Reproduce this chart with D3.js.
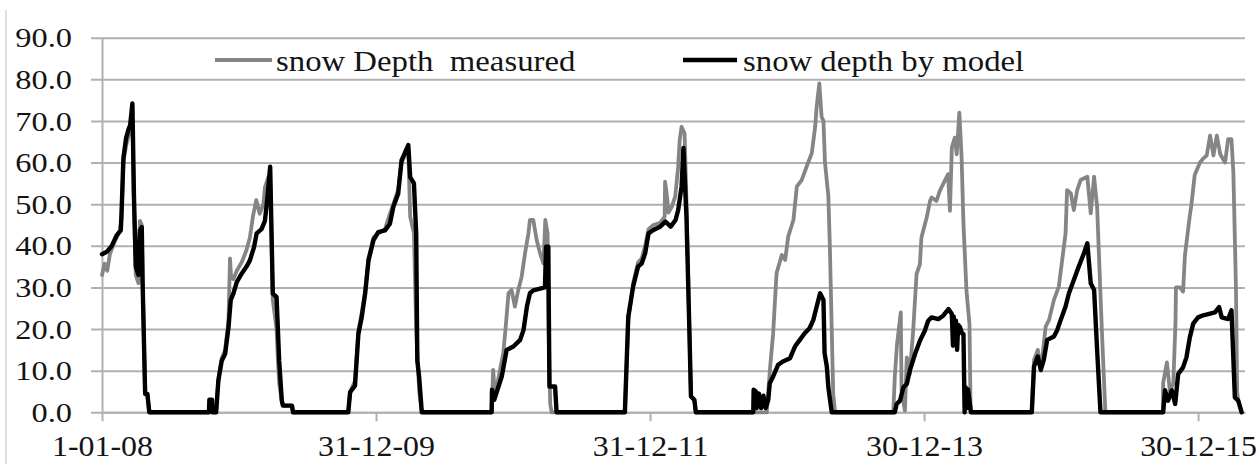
<!DOCTYPE html>
<html>
<head>
<meta charset="utf-8">
<script src="https://cdn.jsdelivr.net/npm/d3@7"></script>
<style>
  html, body { margin: 0; padding: 0; background: #fff; }
  svg { display: block; }
  text { font-family: "Liberation Serif", "Times New Roman", serif; fill: #141414; }
</style>
</head>
<body>
<svg id="chart" width="1259" height="464"></svg>
<script>
// ---- data -------------------------------------------------------------
const yTicks = [0, 10, 20, 30, 40, 50, 60, 70, 80, 90];
const xTickDates = ["2008-01-01", "2009-12-31", "2011-12-31", "2013-12-30", "2015-12-30"];
const xDomain = ["2008-01-01", "2016-05-03"];
const seriesNames = ["snow Depth  measured", "snow depth by model"];

// snow depth measured at the station (cm)
const measured = [
  ["2008-01-01",33],["2008-01-08",35.7],["2008-01-15",34],["2008-01-22",38],["2008-02-04",41],
  ["2008-02-18",43.7],["2008-02-22",47],["2008-02-27",60],["2008-03-05",64],["2008-03-11",66],
  ["2008-03-16",68],["2008-03-22",70],["2008-03-26",50],["2008-03-31",33],["2008-04-07",31],
  ["2008-04-11",46],["2008-04-16",45],["2008-04-18",33],["2008-04-23",12],["2008-04-25",4.4],
  ["2008-05-01",4],["2008-05-06",0],
  ["2008-10-31",0],["2008-11-06",8],["2008-11-15",13],["2008-11-24",15],["2008-12-03",22],
  ["2008-12-07",37],["2008-12-10",32.5],["2008-12-16",32],["2008-12-25",34],["2009-01-07",36],
  ["2009-01-20",39],["2009-01-29",42],["2009-02-06",47],["2009-02-15",51],["2009-02-24",47.7],
  ["2009-03-06",50],["2009-03-10",54],["2009-03-19",56.5],["2009-03-24",57],["2009-03-31",27],
  ["2009-04-10",20],["2009-04-14",12],["2009-04-17",7],["2009-04-24",2.8],["2009-04-27",1.6],
  ["2009-05-21",1.6],["2009-05-24",0],
  ["2009-10-18",0],["2009-10-23",5],["2009-11-05",7.5],["2009-11-14",19.5],["2009-11-23",24],
  ["2009-12-02",29],["2009-12-11",37],["2009-12-24",42],["2010-01-06",43],["2010-01-24",44],
  ["2010-02-06",47.7],["2010-02-15",50],["2010-02-28",53.5],["2010-03-09",60],["2010-03-20",62],
  ["2010-03-27",63],["2010-04-01",47],["2010-04-11",43],["2010-04-17",20],["2010-04-25",5],
  ["2010-05-02",0],
  ["2010-11-04",0],["2010-11-08",10.2],["2010-11-13",4],["2010-12-05",14.2],["2010-12-10",19],
  ["2010-12-19",28.6],["2010-12-27",29.4],["2011-01-05",25.4],["2011-01-14",29.4],["2011-01-23",32.6],
  ["2011-02-01",38.2],["2011-02-10",43],["2011-02-14",46.2],["2011-02-23",46.2],["2011-03-04",41.4],
  ["2011-03-13",38.2],["2011-03-22",35.8],["2011-03-27",46.2],["2011-04-02",43],["2011-04-05",19],
  ["2011-04-09",2],["2011-04-13",0],
  ["2011-10-25",0],["2011-11-03",22],["2011-11-16",31],["2011-11-29",36],["2011-12-09",37],
  ["2011-12-18",40],["2011-12-27",44],["2012-01-09",45],["2012-01-27",45.5],["2012-02-08",47],
  ["2012-02-09",55.4],["2012-02-14",52],["2012-02-18",48],["2012-02-27",49.4],["2012-03-07",51.8],
  ["2012-03-15",59],["2012-03-19",65.4],["2012-03-24",68.6],["2012-04-01",67],["2012-04-06",51],
  ["2012-04-14",19],["2012-04-18",3.8],["2012-04-27",3],["2012-05-01",0],
  ["2012-11-06",0],["2012-11-15",11],["2012-11-23",19],["2012-12-02",33.4],["2012-12-16",37.8],
  ["2012-12-25",36.6],["2013-01-02",42.2],["2013-01-16",46.2],["2013-01-25",54.2],["2013-02-07",55.8],
  ["2013-02-20",59],["2013-03-06",62.3],["2013-03-15",68.7],["2013-03-19",73.5],["2013-03-26",79],
  ["2013-04-01",71],["2013-04-06",70],["2013-04-10",60],["2013-04-19",52],["2013-04-23",40],
  ["2013-04-28",20],["2013-05-02",4.4],["2013-05-07",0],
  ["2013-10-09",0],["2013-10-13",8.4],["2013-10-19",16.4],["2013-10-29",24],["2013-10-31",5.2],
  ["2013-11-09",0.4],["2013-11-14",13.2],["2013-11-22",9.2],["2013-12-01",19.6],["2013-12-10",33.2],
  ["2013-12-19",35.6],["2013-12-23",42],["2014-01-06",46.8],["2014-01-15",50.8],["2014-01-19",51.6],
  ["2014-02-01",50.8],["2014-02-10",53.2],["2014-02-23",55.6],["2014-03-04",57.2],["2014-03-09",48.4],
  ["2014-03-14",63.6],["2014-03-22",66],["2014-03-27",62],["2014-04-03",72],["2014-04-09",61.2],
  ["2014-04-14",45.2],["2014-04-22",29.2],["2014-04-30",21.2],["2014-05-03",0],
  ["2014-10-13",0],["2014-10-19",12.6],["2014-10-29",15],["2014-11-06",10],["2014-11-19",20.6],
  ["2014-11-28",22.2],["2014-12-11",27],["2014-12-24",30.2],["2015-01-02",36.6],["2015-01-11",43],
  ["2015-01-15",53.4],["2015-01-25",52.6],["2015-02-02",48.6],["2015-02-11",53.4],["2015-02-20",55.8],
  ["2015-03-10",56.6],["2015-03-19",47.8],["2015-03-28",56.6],["2015-04-05",49.4],["2015-04-18",19],
  ["2015-04-27",0],
  ["2015-09-27",0],["2015-09-28",7],["2015-10-08",12],["2015-10-16",5],["2015-10-25",7],
  ["2015-10-31",22],["2015-11-01",30],["2015-11-12",30],["2015-11-20",29],["2015-11-25",37.7],
  ["2015-12-08",47.3],["2015-12-12",49.7],["2015-12-21",57],["2016-01-04",60],["2016-01-13",61],
  ["2016-01-22",61.7],["2016-01-31",66.5],["2016-02-09",61.7],["2016-02-18",66.5],["2016-02-27",62],
  ["2016-03-11",60],["2016-03-19",65.6],["2016-03-28",65.6],["2016-04-02",57.6],["2016-04-09",29.5],
  ["2016-04-12",5],["2016-04-15",2.8],["2016-04-24",0]
];

// snow depth simulated by the model (cm)
const model = [
  ["2008-01-01",38],["2008-01-13",38.5],["2008-01-27",40],["2008-02-09",42.5],["2008-02-20",43.7],
  ["2008-02-22",47.7],["2008-02-27",61],["2008-03-05",65.8],["2008-03-11",67.8],["2008-03-16",69],
  ["2008-03-22",74.2],["2008-03-26",52.5],["2008-03-31",35],["2008-04-07",33],["2008-04-11",43.7],
  ["2008-04-16",44.5],["2008-04-18",32],["2008-04-23",12],["2008-04-25",4.4],["2008-05-01",4.4],
  ["2008-05-06",0],
  ["2008-10-12",0],["2008-10-13",3],["2008-10-20",3],["2008-10-21",0],["2008-10-31",0],
  ["2008-11-06",7.6],["2008-11-15",12.4],["2008-11-24",14],["2008-12-03",20.4],["2008-12-09",27],
  ["2008-12-16",28.5],["2008-12-25",31.3],["2009-01-07",33.3],["2009-01-20",35],["2009-01-29",36.5],
  ["2009-02-09",39.7],["2009-02-16",43],["2009-03-01",44],["2009-03-10",46],["2009-03-16",51],
  ["2009-03-24",59],["2009-03-31",28.5],["2009-04-10",27.7],["2009-04-17",12.4],["2009-04-24",2.8],
  ["2009-04-27",1.6],["2009-05-21",1.6],["2009-05-24",0],
  ["2009-10-18",0],["2009-10-23",4.8],["2009-11-05",6.4],["2009-11-14",18.8],["2009-11-23",22.9],
  ["2009-12-02",28.5],["2009-12-11",36.5],["2009-12-24",41.3],["2010-01-06",43.3],["2010-01-24",43.7],
  ["2010-02-06",45.3],["2010-02-15",49.3],["2010-02-28",52.5],["2010-03-09",60.5],["2010-03-27",64.2],
  ["2010-04-01",56.5],["2010-04-11",55],["2010-04-17",43],["2010-04-20",12.4],["2010-04-25",8.4],
  ["2010-05-02",0],
  ["2010-11-04",0],["2010-11-05",5.4],["2010-11-11",3],["2010-11-18",5],["2010-12-01",8.6],
  ["2010-12-14",15],["2011-01-01",15.8],["2011-01-19",17.4],["2011-01-28",19.8],["2011-02-06",25.4],
  ["2011-02-14",28.6],["2011-02-23",29.3],["2011-03-26",30],["2011-03-29",39.8],["2011-04-04",39.8],
  ["2011-04-07",6.2],["2011-04-22",6.2],["2011-04-26",0],
  ["2011-10-25",0],["2011-11-03",23],["2011-11-16",30.2],["2011-11-29",35],["2011-12-09",35.8],
  ["2011-12-18",38.2],["2011-12-27",43],["2012-01-09",43.8],["2012-01-27",44.6],["2012-02-10",45.8],
  ["2012-02-24",44.6],["2012-03-08",46.2],["2012-03-15",48.6],["2012-03-24",54.2],["2012-03-29",63.5],
  ["2012-04-06",47],["2012-04-14",19],["2012-04-18",3.8],["2012-04-27",3],["2012-05-01",0],
  ["2012-10-01",0],["2012-10-02",5.4],["2012-10-08",5],["2012-10-10",1],["2012-10-16",4.5],
  ["2012-10-22",1],["2012-10-28",4],["2012-11-03",1],["2012-11-10",3],["2012-11-14",7],
  ["2012-11-23",8.6],["2012-12-06",11.4],["2012-12-19",12.2],["2013-01-07",13],["2013-01-20",15.8],
  ["2013-02-02",17.4],["2013-02-15",19],["2013-02-28",20.2],["2013-03-10",22.2],["2013-03-19",25.4],
  ["2013-03-28",28.6],["2013-04-06",27],["2013-04-09",14.2],["2013-04-15",11],["2013-04-19",6],
  ["2013-04-28",0],
  ["2013-10-13",0],["2013-10-18",2],["2013-10-27",2.8],["2013-11-05",6],["2013-11-14",6.8],
  ["2013-11-22",10],["2013-12-06",14],["2013-12-19",17.2],["2014-01-01",19.6],["2014-01-10",22],
  ["2014-01-19",22.8],["2014-02-06",22.4],["2014-02-19",23.2],["2014-03-05",24.8],["2014-03-14",23.6],
  ["2014-03-17",16],["2014-03-19",23],["2014-03-22",17],["2014-03-25",22],["2014-03-28",15],
  ["2014-03-31",21],["2014-04-05",20.4],["2014-04-10",19],["2014-04-14",18.8],["2014-04-17",0],
  ["2014-04-20",6],["2014-04-23",1],["2014-04-26",5.5],["2014-05-04",0],
  ["2014-10-13",0],["2014-10-19",11],["2014-10-29",13.4],["2014-11-06",10.2],["2014-11-14",12.6],
  ["2014-11-23",17.4],["2014-12-11",18.2],["2014-12-20",19.8],["2014-12-29",22.2],["2015-01-11",25.4],
  ["2015-01-20",28.6],["2015-02-02",31.8],["2015-02-15",35],["2015-03-01",38.2],["2015-03-10",40.6],
  ["2015-03-19",31],["2015-03-28",29.4],["2015-04-05",15],["2015-04-14",0],
  ["2015-09-28",0],["2015-10-03",5.3],["2015-10-11",2.8],["2015-10-21",5.3],["2015-10-30",2],
  ["2015-11-07",9.2],["2015-11-20",10.8],["2015-11-29",13.2],["2015-12-08",18],["2015-12-17",21.3],
  ["2015-12-30",22.8],["2016-01-13",23.3],["2016-01-31",23.7],["2016-02-13",24],["2016-02-24",25.3],
  ["2016-03-02",22.8],["2016-03-19",22.4],["2016-03-28",24.5],["2016-04-06",3.6],["2016-04-15",2.8],
  ["2016-04-24",0]
];

// ---- layout -------------------------------------------------------------
const plot = { left: 102, right: 1245, top: 37.7, bottom: 412.3 };
const gridColor = "#b0b0b0";
const measuredColor = "#858585";
const modelColor = "#000000";

const parse = d3.utcParse("%Y-%m-%d");
const svg = d3.select("#chart");

const x = d3.scaleUtc().domain(xDomain.map(parse)).range([plot.left, plot.right]);
const y = d3.scaleLinear().domain([0, 90]).range([plot.bottom, plot.top]);

// chart-area frame edge
svg.append("line")
  .attr("x1", 6).attr("x2", 6).attr("y1", 10).attr("y2", 464)
  .attr("stroke", "#d4d4d4").attr("stroke-width", 1.5);

// value axis with horizontal gridlines
const yLabelGap = 30, yLabelStretch = 1.2;
const gy = svg.append("g")
  .attr("transform", `translate(${plot.left},0)`)
  .call(d3.axisLeft(y)
    .tickValues(yTicks)
    .tickSizeInner(-(plot.right - plot.left))
    .tickSizeOuter(0)
    .tickPadding(yLabelGap)
    .tickFormat(d3.format(".1f")));
gy.select(".domain").attr("stroke", gridColor).attr("stroke-width", 2);
gy.selectAll(".tick line")
  .attr("x1", -11)
  .attr("stroke", gridColor).attr("stroke-width", 2);
gy.selectAll(".tick text")
  .attr("x", -yLabelGap / yLabelStretch)
  .attr("transform", `scale(${yLabelStretch},1)`)
  .attr("dy", "0.34em")
  .style("font-size", "27px");

// date axis
const xLabelStretch = 1.1;
const gx = svg.append("g")
  .attr("transform", `translate(0,${plot.bottom})`)
  .call(d3.axisBottom(x)
    .tickValues(xTickDates.map(parse))
    .tickSizeInner(9)
    .tickSizeOuter(0)
    .tickFormat(d3.utcFormat("%-d-%m-%y")));
gx.select(".domain").attr("stroke", gridColor).attr("stroke-width", 2);
gx.selectAll(".tick line").attr("stroke", gridColor).attr("stroke-width", 2);
gx.selectAll(".tick text")
  .attr("y", 44).attr("dy", 0)
  .attr("transform", `scale(${xLabelStretch},1)`)
  .style("font-size", "29px");

// series lines
const line = d3.line()
  .x(d => x(parse(d[0])))
  .y(d => y(d[1]));

svg.append("path")
  .datum(measured)
  .attr("fill", "none")
  .attr("stroke", measuredColor)
  .attr("stroke-width", 3.8)
  .attr("stroke-linejoin", "round")
  .attr("stroke-linecap", "round")
  .attr("d", line);

svg.append("path")
  .datum(model)
  .attr("fill", "none")
  .attr("stroke", modelColor)
  .attr("stroke-width", 4.4)
  .attr("stroke-linejoin", "round")
  .attr("stroke-linecap", "round")
  .attr("d", line);

// legend
const legendItems = [
  { name: seriesNames[0], color: measuredColor, width: 3.8, x0: 215, x1: 272, tx: 276 },
  { name: seriesNames[1], color: modelColor,    width: 4.4, x0: 683, x1: 737, tx: 743 }
];
const legend = svg.append("g");
legendItems.forEach(item => {
  legend.append("line")
    .attr("x1", item.x0).attr("x2", item.x1)
    .attr("y1", 60).attr("y2", 60)
    .attr("stroke", item.color).attr("stroke-width", item.width);
  legend.append("text")
    .attr("transform", `translate(${item.tx},71) scale(1.13,1)`)
    .style("font-size", "29px")
    .style("white-space", "pre")
    .attr("xml:space", "preserve")
    .text(item.name);
});
</script>
</body>
</html>
